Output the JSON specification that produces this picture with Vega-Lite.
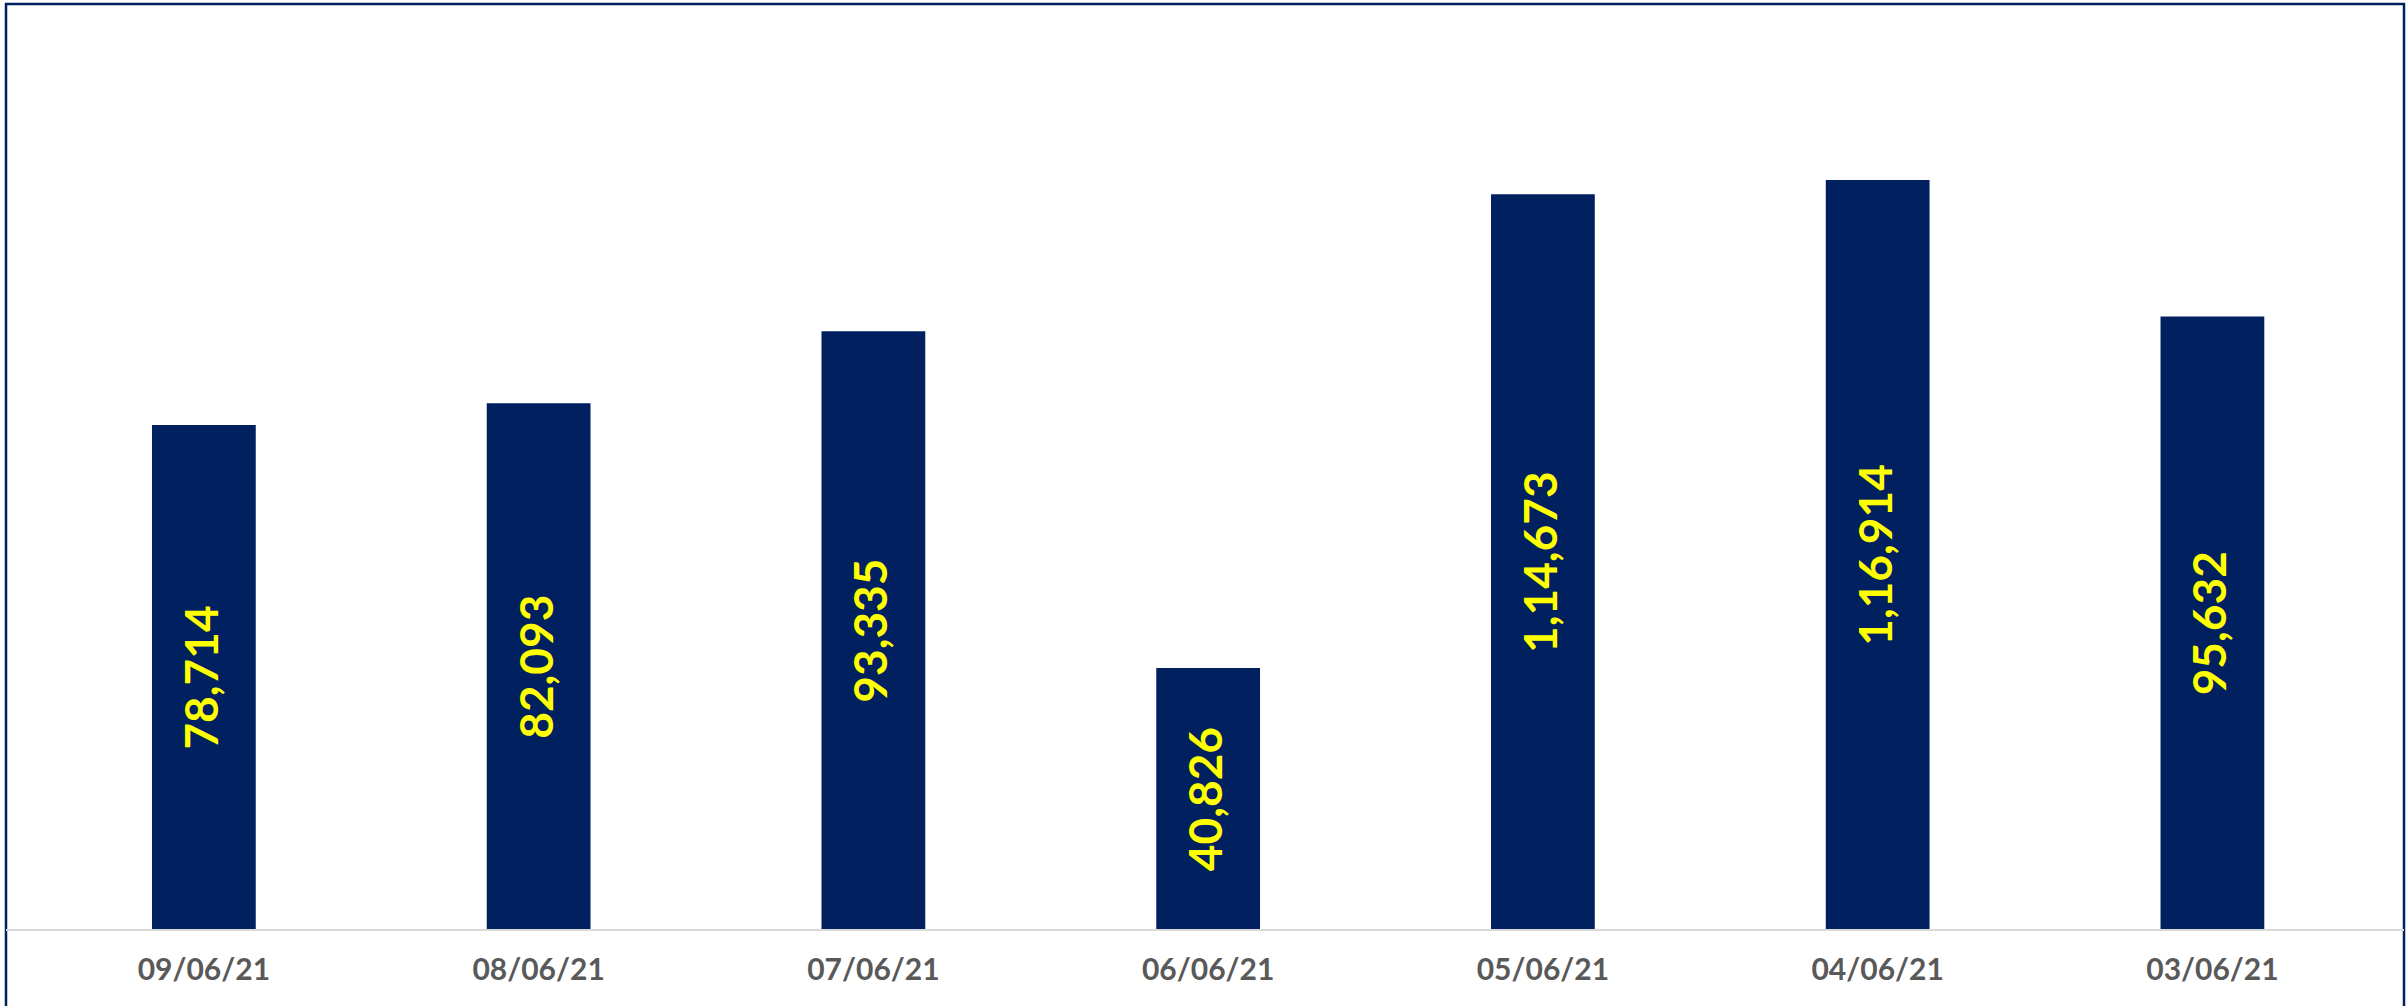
{
  "$schema": "https://vega.github.io/schema/vega-lite/v6.json",
  "autosize": "none",
  "width": 2398,
  "height": 1004,
  "padding": {"left": 6, "top": 4, "right": 3, "bottom": 0},
  "background": "white",
  "config": {
    "view": {"stroke": "#002060", "strokeWidth": 2.5},
    "font": "Lato"
  },
  "data": {
    "values": [
      {"date": "09/06/21", "value": 78714, "label": "78,714"},
      {"date": "08/06/21", "value": 82093, "label": "82,093"},
      {"date": "07/06/21", "value": 93335, "label": "93,335"},
      {"date": "06/06/21", "value": 40826, "label": "40,826"},
      {"date": "05/06/21", "value": 114673, "label": "1,14,673"},
      {"date": "04/06/21", "value": 116914, "label": "1,16,914"},
      {"date": "03/06/21", "value": 95632, "label": "95,632"}
    ]
  },
  "encoding": {
    "x": {
      "field": "date",
      "type": "nominal",
      "sort": null,
      "scale": {"paddingInner": 0.69, "paddingOuter": 0.4267, "align": 0.511},
      "axis": {
        "title": null,
        "orient": "bottom",
        "offset": -78,
        "domain": false,
        "ticks": false,
        "labelAngle": 0,
        "labelPadding": 25,
        "labelFont": "Lato",
        "labelFontSize": 30,
        "labelFontWeight": "bold",
        "labelColor": "#595959"
      }
    }
  },
  "layer": [
    {
      "mark": {"type": "bar", "color": "#002060"},
      "encoding": {
        "y": {
          "field": "value",
          "type": "quantitative",
          "scale": {"domain": [-12159, 144349], "nice": false, "zero": false},
          "axis": null
        },
        "y2": {"datum": 0}
      }
    },
    {
      "mark": {"type": "rule", "color": "#D9D9D9", "strokeWidth": 2},
      "encoding": {"y": {"datum": 0, "type": "quantitative"}, "x": null}
    },
    {
      "transform": [{"calculate": "datum.value / 2", "as": "mid"}],
      "mark": {
        "type": "text",
        "angle": 270,
        "align": "center",
        "baseline": "middle",
        "font": "Lato",
        "fontSize": 46,
        "fontWeight": "bold",
        "color": "#FFFF00"
      },
      "encoding": {
        "y": {"field": "mid", "type": "quantitative"},
        "text": {"field": "label"}
      }
    }
  ]
}
